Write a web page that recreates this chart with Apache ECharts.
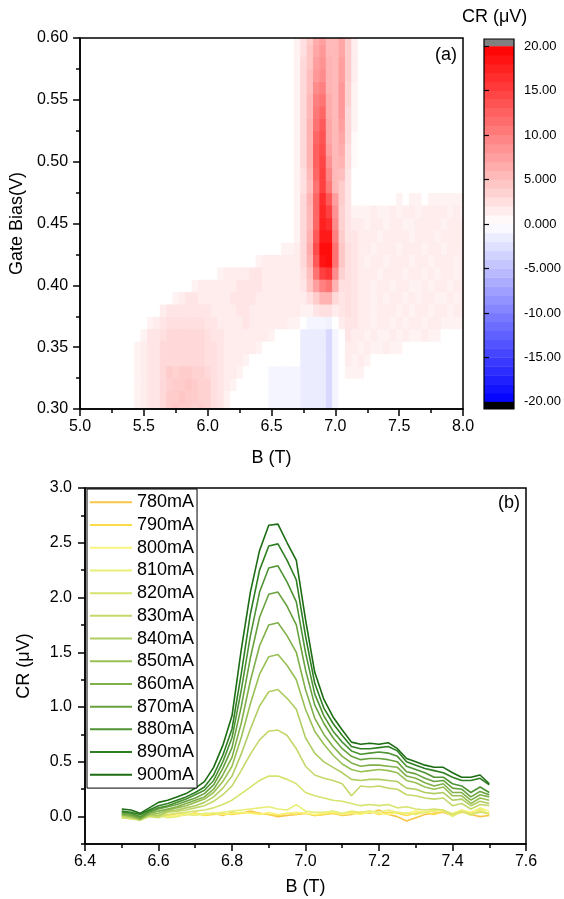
<!DOCTYPE html>
<html><head><meta charset="utf-8">
<script src="https://cdn.jsdelivr.net/npm/echarts@6/dist/echarts.min.js"></script>
<style>html,body{margin:0;padding:0;background:#fff}#c{width:564px;height:899px}</style>
</head><body><div id="c"></div>
<script>
// ---------- (a) map data ----------
const fieldB = [5,5.05,5.1,5.15,5.2,5.25,5.3,5.35,5.4,5.45,5.5,5.55,5.6,5.65,5.7,5.75,5.8,5.85,5.9,5.95,
  6,6.05,6.1,6.15,6.2,6.25,6.3,6.35,6.4,6.45,6.5,6.55,6.6,6.65,6.7,6.75,6.8,6.85,6.9,6.95,
  7,7.05,7.1,7.15,7.2,7.25,7.3,7.35,7.4,7.45,7.5,7.55,7.6,7.65,7.7,7.75,7.8,7.85,7.9,7.95,8];
const gateBias = [0.30,0.31,0.32,0.33,0.34,0.35,0.36,0.37,0.38,0.39,0.40,0.41,0.42,0.43,0.44,0.45,
  0.46,0.47,0.48,0.49,0.50,0.51,0.52,0.53,0.54,0.55,0.56,0.57,0.58,0.59,0.60];
const crMap = [
/*0.30*/[0,0,0,0,0,0,0,0,0, 1,1.5,2,2,3,4,4.5,4,4,3.5,4, 3.5,2.5,2,1,0,0,0,0,0,0, -0.8,-0.8,-0.8,-0.8,-0.8,-1.5,-1.5,-1.5,-1.5,-3, -0.8,0,0,0,0,0,0,0,0,0, 0,0,0,0,0,0,0,0,0,0,0],
/*0.31*/[0,0,0,0,0,0,0,0,0, 1,1.5,2,2,3,4,4,4.5,4,4,3.5, 3.5,2.5,2,1,0,0,0,0,0,0, -0.8,-0.8,-0.8,-0.8,-0.8,-1.5,-1.5,-1.5,-1.5,-3, -0.8,0,0,0,0,0,0,0,0,0, 0,0,0,0,0,0,0,0,0,0,0],
/*0.32*/[0,0,0,0,0,0,0,0,0, 1,1.5,2,2,3,3.5,4,4,4.5,4,3.5, 3.5,2.5,2,1.5,1,0,0,0,0,0, -0.8,-0.8,-0.8,-0.8,-0.8,-1.5,-1.5,-1.5,-1.5,-3, -0.8,0,0,0,0,0,0,0,0,0, 0,0,0,0,0,0,0,0,0,0,0],
/*0.33*/[0,0,0,0,0,0,0,0,0, 1,1.5,2,2,3,4,3.5,4,4,3.5,3.5, 3,2.5,2,1.5,1.5,1,0,0,0,0, -0.8,-0.8,-0.8,-0.8,-0.8,-1.5,-1.5,-1.5,-1.5,-3, -0.8,0,1,1,1,0,0,0,0,0, 0,0,0,0,0,0,0,0,0,0,0],
/*0.34*/[0,0,0,0,0,0,0,0,0, 1,1.5,2,2,3,3,3,3,3,3,3, 2.5,2.5,2,1.5,1.5,1.5,1,0,0,0, 0,0,0,0,0,-1.5,-1.5,-1.5,-1.5,-3, -0.8,0,1.5,1,1.5,1,0,0,0,0, 0,0,0,0,0,0,0,0,0,0,0],
/*0.35*/[0,0,0,0,0,0,0,0,0, 1,1.5,2,2,3,3,3,3,3,3,3, 2.5,2.5,2,1.5,1.5,1.5,1.5,1.5,1,0, 0,0,0,0,0,-1.5,-1.5,-1.5,-1.5,-3, -0.8,0,1.5,1.5,1,1.5,1,1,1.5,1, 1,0,0,0,0,0,0,0,0,0,0],
/*0.36*/[0,0,0,0,0,0,0,0,0, 0,1,2,2,2.5,3,3,3,3,3,3, 2.5,2,2,1.5,1.5,1.5,1.5,1.5,1.5,1.5, 1,0,0,0,0,-1.5,-1.5,-1.5,-1.5,-3, -0.8,0,2,1.5,1.5,1,1.5,1,1,1.5, 1,1.5,1,1,1.5,1,1,0,0,0,0],
/*0.37*/[0,0,0,0,0,0,0,0,0, 0,0,1,1.5,2,2.5,2.5,2.5,2.5,2.5,2.5, 2,2,1.5,1.5,1.5,1.5,2,1.5,1.5,1.5, 1.5,1.5,1.5,1,1,0,-0.8,-0.8,-0.8,-1, 0,1.5,2,2,1.5,1.5,1,1.5,1.5,1, 1.5,1,1.5,1.5,1,1.5,1.5,1,1,1,1],
/*0.38*/[0,0,0,0,0,0,0,0,0, 0,0,0,0,1.5,2,2,2,2,2,2, 2,1.5,1.5,1.5,1.5,2,2,1.5,1.5,1.5, 1.5,1.5,1.5,1.5,1.5,1,1,2,2.5,2.5, 1.5,2,2.5,2,1.5,1.5,1,1.5,1.5,1.5, 1,1.5,1,1.5,1.5,1,1.5,1.5,1,1.5,1.5],
/*0.39*/[0,0,0,0,0,0,0,0,0, 0,0,0,0,0,0,1,1.5,2,2,1.5, 1.5,1.5,1.5,1.5,2,2,2,2,1.5,1.5, 1.5,1.5,1.5,1.5,1.5,1.5,2.5,4,6,6, 3,2,2.5,2,1.5,1.5,1,1.5,1,1.5, 1.5,1,1.5,1,1.5,1.5,1,1,1.5,1,1.5],
/*0.40*/[0,0,0,0,0,0,0,0,0, 0,0,0,0,0,0,0,0,0,1,1.5, 1.5,1.5,1.5,1.5,1.5,2,2,2,2,1.5, 1.5,1.5,1.5,1.5,1.5,2,4.5,7.5,10,11, 6,2.5,2.5,2,1.5,1.5,1,1.5,1.5,1, 1.5,1.5,1,1,1.5,1,1.5,1.5,1,1.5,1.5],
/*0.41*/[0,0,0,0,0,0,0,0,0, 0,0,0,0,0,0,0,0,0,0,0, 0,0,1,1.5,1.5,1.5,1.5,2,2,1.5, 1.5,1.5,1.5,1.5,1.5,2.5,5,11,15,16, 9,3.5,2.5,2,1.5,1.5,1.5,1,1.5,1.5, 1.5,1,1.5,1.5,1,1.5,1,1.5,1.5,1,1.5],
/*0.42*/[0,0,0,0,0,0,0,0,0, 0,0,0,0,0,0,0,0,0,0,0, 0,0,0,0,0,0,0,0,1,1.5, 1.5,1.5,1.5,1.5,1.5,3,6,13,18.5,19, 11,4.5,2.5,2,1.5,1,1.5,1.5,1,1.5, 1.5,1.5,1,1.5,1.5,1,1.5,1.5,1.5,1,1.5],
/*0.43*/[0,0,0,0,0,0,0,0,0, 0,0,0,0,0,0,0,0,0,0,0, 0,0,0,0,0,0,0,0,0,0, 0,0,1,1,1.5,3,6.5,14,19,19, 11,4.5,2.5,2,1.5,1.5,1,1.5,1.5,1.5, 1,1.5,1.5,1.5,1,1.5,1.5,1,1.5,1.5,1.5],
/*0.44*/[0,0,0,0,0,0,0,0,0, 0,0,0,0,0,0,0,0,0,0,0, 0,0,0,0,0,0,0,0,0,0, 0,0,0,0,1,3,6,13,18,18, 10,4,2,2,1.5,1.5,1.5,1,1.5,1.5, 1.5,1.5,1,1.5,1.5,1.5,1,1.5,1.5,1.5,1.5],
/*0.45*/[0,0,0,0,0,0,0,0,0, 0,0,0,0,0,0,0,0,0,0,0, 0,0,0,0,0,0,0,0,0,0, 0,0,0,0,1,3,5.5,12,17.5,16.5, 9,3.5,2,1.5,1.5,1,1.5,1.5,1,1.5, 1.5,1,1,1.5,1.5,1.5,1.5,1,1.5,1.5,1.5],
/*0.46*/[0,0,0,0,0,0,0,0,0, 0,0,0,0,0,0,0,0,0,0,0, 0,0,0,0,0,0,0,0,0,0, 0,0,0,0,1,3,5.5,12,17,15, 8.5,3.5,2,1,1,1,1.5,1,1,1.5, 1,1.5,1.5,1,1.5,1.5,1.5,1.5,1,1.5,1],
/*0.47*/[0,0,0,0,0,0,0,0,0, 0,0,0,0,0,0,0,0,0,0,0, 0,0,0,0,0,0,0,0,0,0, 0,0,0,0,1,3,6,12,16.5,13, 7.5,4,2,0,0,0,0,0,0,0, 1,0,1,1,0,1,1,1,1,1,1],
/*0.48*/[0,0,0,0,0,0,0,0,0, 0,0,0,0,0,0,0,0,0,0,0, 0,0,0,0,0,0,0,0,0,0, 0,0,0,0,1,2.5,5,11,15,10.5, 5.5,4,2,0,0,0,0,0,0,0, 0,0,0,0,0,0,0,0,0,0,0],
/*0.49*/[0,0,0,0,0,0,0,0,0, 0,0,0,0,0,0,0,0,0,0,0, 0,0,0,0,0,0,0,0,0,0, 0,0,0,0,1,2.5,5.5,12,15,9.5, 5.5,5,2,0,0,0,0,0,0,0, 0,0,0,0,0,0,0,0,0,0,0],
/*0.50*/[0,0,0,0,0,0,0,0,0, 0,0,0,0,0,0,0,0,0,0,0, 0,0,0,0,0,0,0,0,0,0, 0,0,0,0,1,3,6,12.5,14.5,8.5, 5.5,6,2.5,0.5,0,0,0,0,0,0, 0,0,0,0,0,0,0,0,0,0,0],
/*0.51*/[0,0,0,0,0,0,0,0,0, 0,0,0,0,0,0,0,0,0,0,0, 0,0,0,0,0,0,0,0,0,0, 0,0,0,0,1,3,6,12.5,14,7.5, 5.5,6.5,2.5,0.5,0,0,0,0,0,0, 0,0,0,0,0,0,0,0,0,0,0],
/*0.52*/[0,0,0,0,0,0,0,0,0, 0,0,0,0,0,0,0,0,0,0,0, 0,0,0,0,0,0,0,0,0,0, 0,0,0,0,1,3,6,12,13.5,7, 5.5,7,3,0.5,0,0,0,0,0,0, 0,0,0,0,0,0,0,0,0,0,0],
/*0.53*/[0,0,0,0,0,0,0,0,0, 0,0,0,0,0,0,0,0,0,0,0, 0,0,0,0,0,0,0,0,0,0, 0,0,0,0,1,3,6,11,13,7, 5.5,7.5,3,1,0,0,0,0,0,0, 0,0,0,0,0,0,0,0,0,0,0],
/*0.54*/[0,0,0,0,0,0,0,0,0, 0,0,0,0,0,0,0,0,0,0,0, 0,0,0,0,0,0,0,0,0,0, 0,0,0,0,1,3,5.5,10.5,12,6.5, 5.5,8,3,1,0,0,0,0,0,0, 0,0,0,0,0,0,0,0,0,0,0],
/*0.55*/[0,0,0,0,0,0,0,0,0, 0,0,0,0,0,0,0,0,0,0,0, 0,0,0,0,0,0,0,0,0,0, 0,0,0,0,1,3,5.5,10,11,6.5, 5.5,8,3.5,1,0,0,0,0,0,0, 0,0,0,0,0,0,0,0,0,0,0],
/*0.56*/[0,0,0,0,0,0,0,0,0, 0,0,0,0,0,0,0,0,0,0,0, 0,0,0,0,0,0,0,0,0,0, 0,0,0,0,1,3,5,9,10,6, 5.5,8,3.5,1,0,0,0,0,0,0, 0,0,0,0,0,0,0,0,0,0,0],
/*0.57*/[0,0,0,0,0,0,0,0,0, 0,0,0,0,0,0,0,0,0,0,0, 0,0,0,0,0,0,0,0,0,0, 0,0,0,0,1,3,5,8,9,6, 5.5,7.5,4,1.5,0,0,0,0,0,0, 0,0,0,0,0,0,0,0,0,0,0],
/*0.58*/[0,0,0,0,0,0,0,0,0, 0,0,0,0,0,0,0,0,0,0,0, 0,0,0,0,0,0,0,0,0,0, 0,0,0,0,1,3,4.5,7.5,8.5,6, 5.5,7.5,4,1.5,0,0,0,0,0,0, 0,0,0,0,0,0,0,0,0,0,0],
/*0.59*/[0,0,0,0,0,0,0,0,0, 0,0,0,0,0,0,0,0,0,0,0, 0,0,0,0,0,0,0,0,0,0, 0,0,0,0,1,2.5,4.5,7,8,5.5, 5.5,7,4,1.5,0,0,0,0,0,0, 0,0,0,0,0,0,0,0,0,0,0],
/*0.60*/[0,0,0,0,0,0,0,0,0, 0,0,0,0,0,0,0,0,0,0,0, 0,0,0,0,0,0,0,0,0,0, 0,0,0,0,1,2.5,4,6.5,7.5,5.5, 5.5,7,4,1.5,0,0,0,0,0,0, 0,0,0,0,0,0,0,0,0,0,0]
];
const cbTicks = [-20,-15,-10,-5,0,5,10,15,20];
const cbTickLabels = ['-20.00','-15.00','-10.00','-5.000','0.000','5.000','10.00','15.00','20.00'];
const cbLevels = [-19.5,-18.5,-17.5,-16.5,-15.5,-14.5,-13.5,-12.5,-11.5,-10.5,-9.5,-8.5,-7.5,-6.5,-5.5,-4.5,-3.5,-2.5,-1.5,-0.5,
  0.5,1.5,2.5,3.5,4.5,5.5,6.5,7.5,8.5,9.5,10.5,11.5,12.5,13.5,14.5,15.5,16.5,17.5,18.5,19.5];
const cbRange = [-20, 20];
const cbExtra = 0.8;

// ---------- (b) sweep data ----------
const sweepB = [6.5,6.525,6.55,6.575,6.6,6.625,6.65,6.675,6.7,6.725,6.75,6.775,6.8,6.825,6.85,6.875,6.9,6.925,6.95,6.975,
  7,7.025,7.05,7.075,7.1,7.125,7.15,7.175,7.2,7.225,7.25,7.275,7.3,7.325,7.35,7.375,7.4,7.425,7.45,7.475,7.5];
const currents = ['780mA','790mA','800mA','810mA','820mA','830mA','840mA','850mA','860mA','870mA','880mA','890mA','900mA'];
const currentColors = ['#f7c54a','#fbdc48','#f8f47c','#e8ef78','#d6e36e','#c4d86a','#b0cd62','#98c055','#80b04a','#68a23f','#4e9334','#2f7f22','#1b6c12'];
const cr780 = [0.00,0.01,0.00,0.01,0.02,0.01,0.03,0.02,0.03,0.02, 0.03,0.01,0.04,0.03,0.05,0.03,0.02,0.00,0.01,0.02, 0.03,0.01,0.02,0.03,0.01,0.02,0.04,0.03,0.06,0.02, 0.00,-0.04,-0.01,0.02,0.03,0.04,0.01,0.06,0.02,0.00, 0.01];
const cr790 = [0.01,0.00,-0.01,0.02,0.01,0.02,0.01,0.02,0.03,0.01, 0.02,0.03,0.02,0.03,0.04,0.03,0.02,0.01,0.03,0.02, 0.03,0.01,0.02,0.03,0.02,0.04,0.03,0.05,0.02,0.04, 0.03,0.01,0.03,0.04,0.02,0.05,0.01,0.04,0.03,0.05, 0.02];
const cr800 = [0.00,-0.01,-0.02,0.01,0.02,0.00,0.01,0.03,0.02,0.02, 0.03,0.02,0.03,0.04,0.03,0.02,0.04,0.02,0.03,0.04, 0.03,0.02,0.03,0.04,0.02,0.03,0.02,0.04,0.03,0.02, 0.04,0.03,0.05,0.04,0.06,0.05,0.03,0.06,0.04,0.08, 0.05];
const cr810 = [-0.01,-0.02,-0.03,0.00,0.01,-0.01,0.00,0.02,0.01,0.03, 0.03,0.04,0.05,0.06,0.07,0.08,0.09,0.07,0.06,0.11, 0.05,0.04,0.04,0.05,0.03,0.05,0.04,0.05,0.04,0.06, 0.04,0.03,0.02,0.04,0.05,0.06,0.00,0.05,0.01,0.07, 0.02];
const cr820 = [-0.01,-0.02,-0.03,0.00,-0.01,0.02,0.03,0.04,0.05,0.06, 0.08,0.11,0.15,0.21,0.27,0.33,0.37,0.37,0.34,0.30, 0.22,0.19,0.17,0.15,0.14,0.12,0.10,0.11,0.10,0.11, 0.08,0.09,0.07,0.06,0.07,0.06,0.02,0.05,0.02,0.04, 0.03];
const cr830 = [0.00,-0.01,-0.03,0.01,0.00,0.04,0.05,0.06,0.08,0.10, 0.14,0.20,0.28,0.42,0.57,0.70,0.78,0.79,0.74,0.62, 0.46,0.38,0.35,0.33,0.30,0.19,0.28,0.27,0.28,0.26, 0.25,0.20,0.19,0.17,0.16,0.17,0.10,0.12,0.07,0.11, 0.10];
const cr840 = [0.01,0.00,-0.03,0.02,0.01,0.05,0.06,0.08,0.10,0.13, 0.18,0.26,0.37,0.57,0.80,1.01,1.14,1.16,1.08,0.98, 0.72,0.58,0.50,0.45,0.40,0.34,0.33,0.34,0.34,0.33, 0.32,0.26,0.25,0.22,0.21,0.22,0.15,0.16,0.10,0.14, 0.12];
const cr850 = [0.02,0.00,-0.02,0.02,0.03,0.06,0.08,0.10,0.13,0.16, 0.22,0.32,0.46,0.72,1.03,1.30,1.46,1.48,1.38,1.25, 0.98,0.78,0.66,0.56,0.48,0.43,0.41,0.42,0.43,0.42, 0.40,0.33,0.31,0.27,0.25,0.27,0.19,0.19,0.12,0.17, 0.15];
const cr860 = [0.02,0.01,-0.02,0.03,0.05,0.07,0.09,0.12,0.15,0.18, 0.25,0.38,0.54,0.85,1.24,1.56,1.75,1.77,1.65,1.50, 1.16,0.90,0.75,0.64,0.55,0.49,0.46,0.47,0.47,0.46, 0.45,0.37,0.35,0.31,0.28,0.30,0.22,0.22,0.15,0.20, 0.18];
const cr870 = [0.03,0.02,-0.01,0.04,0.07,0.09,0.11,0.14,0.17,0.21, 0.29,0.44,0.63,1.00,1.45,1.82,2.03,2.05,1.92,1.75, 1.34,1.02,0.85,0.72,0.62,0.55,0.52,0.53,0.53,0.52, 0.50,0.41,0.39,0.35,0.32,0.33,0.26,0.25,0.18,0.23, 0.20];
const cr880 = [0.04,0.03,0.00,0.05,0.08,0.10,0.13,0.16,0.20,0.24, 0.33,0.50,0.72,1.15,1.65,2.05,2.27,2.29,2.14,1.96, 1.50,1.12,0.92,0.78,0.68,0.60,0.57,0.58,0.59,0.58, 0.55,0.46,0.43,0.40,0.36,0.36,0.30,0.28,0.22,0.27, 0.22];
const cr890 = [0.05,0.04,0.02,0.06,0.10,0.12,0.15,0.18,0.22,0.27, 0.38,0.56,0.80,1.30,1.85,2.25,2.47,2.49,2.34,2.16, 1.65,1.22,0.99,0.85,0.74,0.64,0.62,0.62,0.63,0.64, 0.60,0.50,0.47,0.44,0.42,0.40,0.36,0.33,0.33,0.35, 0.29];
const cr900 = [0.07,0.06,0.03,0.08,0.13,0.15,0.18,0.21,0.26,0.32, 0.45,0.65,0.92,1.52,2.05,2.43,2.66,2.67,2.50,2.34, 1.80,1.32,1.07,0.91,0.79,0.68,0.66,0.67,0.66,0.675, 0.62,0.53,0.50,0.47,0.45,0.45,0.40,0.36,0.36,0.38, 0.30];
const crSweeps = [cr780,cr790,cr800,cr810,cr820,cr830,cr840,cr850,cr860,cr870,cr880,cr890,cr900];
const crTicks = [0,0.5,1,1.5,2,2.5,3];

// ---------- build ----------
crMap.forEach((r,i)=>{ if(r.length!==fieldB.length) throw new Error('row '+i+' len '+r.length); });
crSweeps.forEach((r,i)=>{ if(r.length!==sweepB.length) throw new Error('sweep '+i+' len '+r.length); });
const dB = fieldB[1]-fieldB[0], dV = gateBias[1]-gateBias[0];
const heatData = [];
gateBias.forEach((v,j)=>fieldB.forEach((b,i)=>heatData.push([b,v,crMap[j][i]])));

const FONT = 'Liberation Sans, Arial, Helvetica, sans-serif';
const BLACK = '#000';
function axisBase(extra){
  return Object.assign({
    type:'value', z:10,
    axisLine:{show:true,onZero:false,lineStyle:{color:BLACK,width:1.5}},
    axisTick:{show:true,inside:false,length:7,lineStyle:{color:BLACK,width:1.5}},
    minorTick:{show:true,splitNumber:2,length:4,lineStyle:{color:BLACK,width:1.5}},
    splitLine:{show:false}, minorSplitLine:{show:false},
    nameLocation:'middle',
    nameTextStyle:{color:BLACK,fontSize:18,fontFamily:FONT}
  }, extra);
}
const lbl = (fmt, margin, extra)=>Object.assign({color:BLACK,fontSize:16,fontFamily:FONT,margin:margin,formatter:fmt}, extra||{});

const chart = echarts.init(document.getElementById('c'), null, {renderer:'canvas'});
chart.setOption({
  animation:false,
  backgroundColor:'#fff',
  grid:[
    {left:79, top:38, width:384, height:371, show:true, z:10, borderColor:BLACK, borderWidth:1.5, backgroundColor:'transparent'},
    {left:484, top:39, width:30, height:370, show:true, z:10, borderColor:BLACK, borderWidth:1.2, backgroundColor:'transparent'},
    {left:85, top:488, width:441, height:356, show:true, z:10, borderColor:BLACK, borderWidth:1.5, backgroundColor:'transparent'}
  ],
  xAxis:[
    axisBase({gridIndex:0, min:5, max:8, interval:0.5, axisLabel:lbl(v=>v.toFixed(1),10), name:'B (T)', nameGap:40}),
    {gridIndex:1, type:'value', min:0, max:1, show:false},
    axisBase({gridIndex:2, min:6.4, max:7.6, interval:0.2, axisLabel:lbl(v=>v.toFixed(1),10), name:'B (T)', nameGap:34})
  ],
  yAxis:[
    axisBase({gridIndex:0, min:0.3, max:0.6, interval:0.05, axisLabel:lbl(v=>v.toFixed(2),12), name:'Gate Bias(V)', nameGap:42}),
    axisBase({gridIndex:1, position:'right', min:cbRange[0]-cbExtra, max:cbRange[1]+cbExtra,
      axisLine:{show:false}, minorTick:{show:false},
      axisTick:{show:true,inside:false,length:5,customValues:cbTicks,lineStyle:{color:BLACK,width:1.2}},
      axisLabel:{customValues:cbTicks,color:BLACK,fontSize:13,fontFamily:FONT,margin:10,
        formatter:v=>cbTickLabels[cbTicks.indexOf(Math.round(v))]}}),
    axisBase({gridIndex:2, position:'left', min:-0.25, max:3, minorTick:{show:false},
      axisTick:{show:true,inside:false,length:7,customValues:crTicks,lineStyle:{color:BLACK,width:1.5}},
      axisLabel:lbl(v=>v.toFixed(1),13,{customValues:crTicks}), name:'CR (\u03bcV)', nameGap:52}),
    {gridIndex:2, type:'value', position:'left', min:-0.25, max:3, interval:0.25, z:10,
      axisLine:{show:false}, axisLabel:{show:false}, splitLine:{show:false},
      axisTick:{show:true,inside:false,length:4,lineStyle:{color:BLACK,width:1.5}}}
  ],
  visualMap:{type:'continuous', show:false, seriesIndex:[0,1], dimension:2, min:cbRange[0], max:cbRange[1],
    inRange:{color:['#0000ff','#ffffff','#ff0000']}},
  legend:{
    data:currents, orient:'vertical', left:87, top:489, z:20, icon:'rect',
    itemWidth:42, itemHeight:2, itemGap:0,
    padding:[2,3,2,3], borderColor:BLACK, borderWidth:1, backgroundColor:'#fff',
    textStyle:{color:BLACK,fontSize:18,fontFamily:FONT,lineHeight:22.7}
  },
  graphic:[
    {type:'text', left:435, top:46, z:30, style:{text:'(a)', font:'18px '+FONT, fill:BLACK}},
    {type:'text', left:498, top:494, z:30, style:{text:'(b)', font:'18px '+FONT, fill:BLACK}},
    {type:'text', left:462, top:8, z:30, style:{text:'CR (\u03bcV)', font:'18px '+FONT, fill:BLACK}}
  ],
  series:[
    {type:'custom', name:'map', xAxisIndex:0, yAxisIndex:0, clip:true, silent:true,
     dimensions:['B','V','CR'], encode:{x:0,y:1}, data:heatData,
     renderItem:(params,api)=>{
       const b=api.value(0), v=api.value(1);
       const p0=api.coord([b-dB/2, v+dV/2]), p1=api.coord([b+dB/2, v-dV/2]);
       return {type:'rect', shape:{x:p0[0], y:p0[1], width:p1[0]-p0[0]+0.6, height:p1[1]-p0[1]+0.6},
         style:{fill:api.visual('color')}};
     }},
    {type:'custom', name:'colorbar', xAxisIndex:1, yAxisIndex:1, silent:true,
     dimensions:['x','lvl','val'], encode:{x:0,y:1},
     data:cbLevels.map(l=>[0.5,l,l]),
     renderItem:(params,api)=>{
       const l=api.value(1);
       const p0=api.coord([0,l+0.5]), p1=api.coord([1,l-0.5]);
       return {type:'rect', shape:{x:p0[0], y:p0[1], width:p1[0]-p0[0], height:p1[1]-p0[1]+0.4},
         style:{fill:api.visual('color')}};
     }},
    {type:'custom', name:'cbEnds', xAxisIndex:1, yAxisIndex:1, silent:true,
     encode:{x:0,y:1},
     data:[{value:[0.5,cbRange[1],cbRange[1]+cbExtra], itemStyle:{color:'#808080'}},
           {value:[0.5,cbRange[0]-cbExtra,cbRange[0]], itemStyle:{color:'#000000'}}],
     renderItem:(params,api)=>{
       const p0=api.coord([0,api.value(2)]), p1=api.coord([1,api.value(1)]);
       return {type:'rect', shape:{x:p0[0], y:p0[1], width:p1[0]-p0[0], height:p1[1]-p0[1]},
         style:{fill:api.visual('color')}};
     }}
  ].concat(currents.map((name,i)=>({
    type:'line', name:name, xAxisIndex:2, yAxisIndex:2, symbol:'none', showSymbol:false,
    color:currentColors[i], itemStyle:{color:currentColors[i]}, lineStyle:{width:1.6, color:currentColors[i]},
    data:sweepB.map((b,k)=>[b, crSweeps[i][k]]), z:3
  })))
});
</script></body></html>
